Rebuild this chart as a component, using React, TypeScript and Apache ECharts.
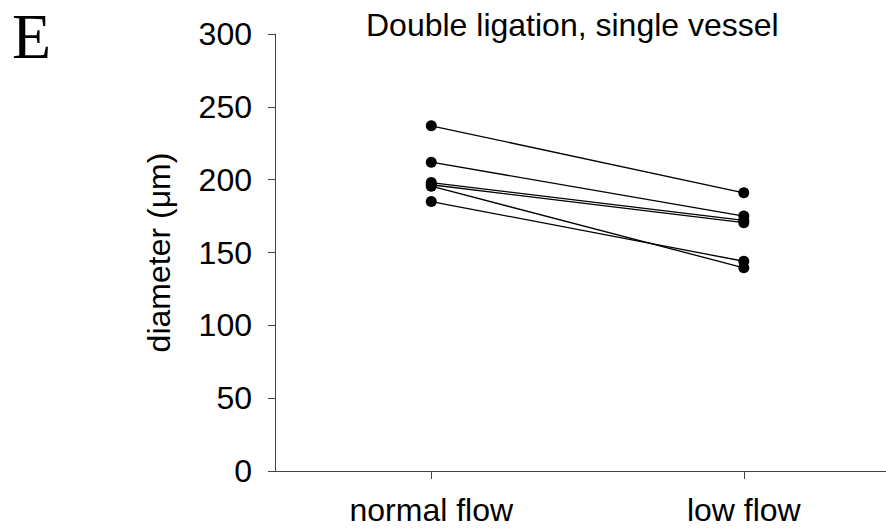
import React, { useEffect, useRef } from "react";
import * as echarts from "echarts";

const categories = ["normal flow", "low flow"];
const normalFlow = [237, 212, 198, 196.5, 195.5, 185];
const lowFlow = [191, 175, 172, 170.5, 139.5, 144];
const yTicks = [0, 50, 100, 150, 200, 250, 300];
const titleText = "Double ligation, single vessel";
const yName = "diameter (μm)";
const panelLetter = "E";

const FONT = "'Liberation Sans', Arial, sans-serif";

export default function App() {
  const ref = useRef<HTMLDivElement>(null);
  useEffect(() => {
    const chart = echarts.init(ref.current!, null, { renderer: "svg" });
    const series = normalFlow.map((v, i) => ({
      type: "line",
      data: [
        [1, v],
        [2, lowFlow[i]],
      ],
      symbol: "circle",
      symbolSize: 11,
      lineStyle: { color: "#000", width: 1.3 },
      itemStyle: { color: "#000" },
      silent: true,
    }));
    chart.setOption({
      animation: false,
      backgroundColor: "#fff",
      title: {
        text: titleText,
        left: 361,
        top: 4,
        textStyle: { fontFamily: FONT, fontSize: 32, fontWeight: "normal", color: "#000" },
      },
      graphic: [
        {
          type: "text",
          x: 12,
          y: 36,
          style: {
            text: panelLetter,
            font: "64px 'Liberation Serif', 'Times New Roman', serif",
            fill: "#000",
            verticalAlign: "middle",
          },
        },
      ],
      grid: { left: 275, top: 34, right: 0, bottom: 58, containLabel: false },
      xAxis: {
        type: "value",
        min: 0.5,
        max: 2.455,
        splitLine: { show: false },
        axisLine: { lineStyle: { color: "#444", width: 1 } },
        axisTick: { show: true, customValues: [1, 2], length: 8, inside: false, lineStyle: { color: "#444" } },
        axisLabel: {
          customValues: [1, 2],
          formatter: (v: number) => categories[Math.round(v) - 1] ?? "",
          margin: 23,
          fontFamily: FONT,
          fontSize: 32,
          color: "#000",
        },
      },
      yAxis: {
        type: "value",
        min: 0,
        max: 300,
        interval: 50,
        name: yName,
        nameLocation: "middle",
        nameGap: 100,
        nameTextStyle: { fontFamily: FONT, fontSize: 32, color: "#000" },
        splitLine: { show: false },
        axisLine: { show: true, lineStyle: { color: "#444", width: 1 } },
        axisTick: { show: true, length: 7, lineStyle: { color: "#444" } },
        axisLabel: {
          customValues: yTicks,
          margin: 23,
          fontFamily: FONT,
          fontSize: 32,
          color: "#000",
        },
      },
      series,
    });
    return () => chart.dispose();
  }, []);
  return <div ref={ref} style={{ width: 886, height: 529, position: "absolute", left: 0, top: 0 }} />;
}
